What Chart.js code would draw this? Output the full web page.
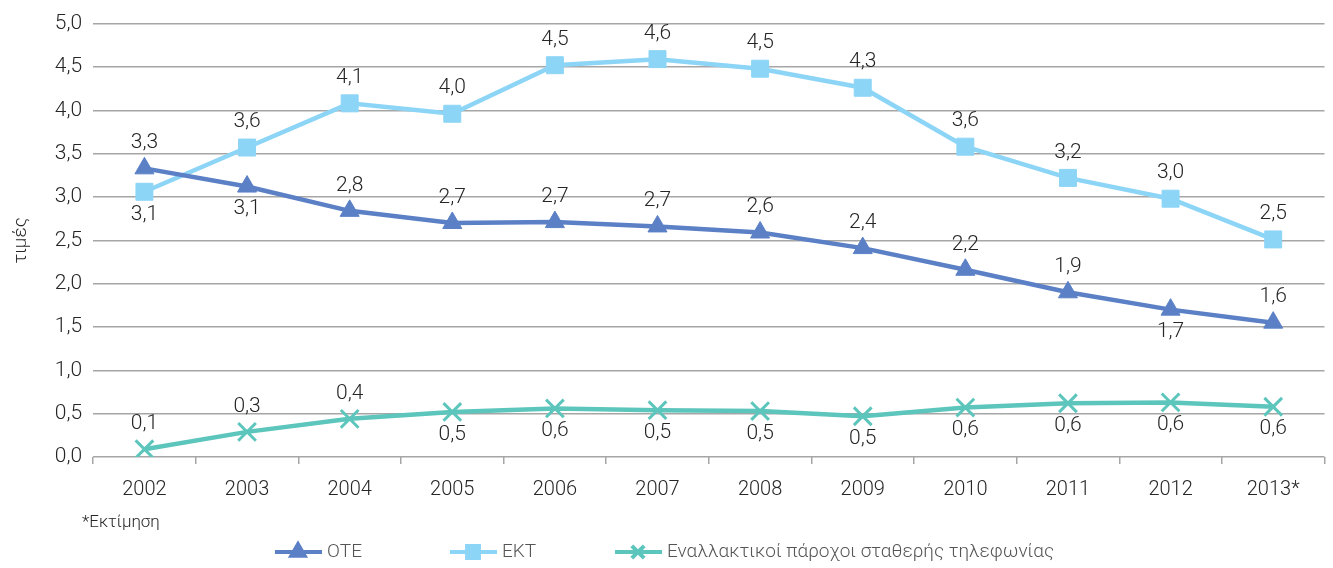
<!DOCTYPE html>
<html>
<head>
<meta charset="utf-8">
<script src="https://cdn.jsdelivr.net/npm/chart.js@4"></script>
<style>
  html, body { margin: 0; padding: 0; background: #fff; overflow: hidden; }
  #wrap { width: 1340px; height: 568px; }
</style>
</head>
<body>
<div id="wrap"><canvas id="chart"></canvas></div>
<script>
const years = ['2002', '2003', '2004', '2005', '2006', '2007', '2008', '2009', '2010', '2011', '2012', '2013*'];
const oteValues = [3.33, 3.12, 2.84, 2.70, 2.71, 2.66, 2.59, 2.41, 2.16, 1.90, 1.70, 1.55];
const ektValues = [3.06, 3.57, 4.08, 3.96, 4.52, 4.59, 4.48, 4.26, 3.58, 3.22, 2.98, 2.51];
const altValues = [0.09, 0.29, 0.44, 0.52, 0.56, 0.54, 0.53, 0.47, 0.57, 0.62, 0.63, 0.58];
// where each value label sits: 1 above the point, -1 below
const oteLabelSide = [1, -1, 1, 1, 1, 1, 1, 1, 1, 1, -1, 1];
const ektLabelSide = [-1, 1, 1, 1, 1, 1, 1, 1, 1, 1, 1, 1];
const altLabelSide = [1, 1, 1, -1, -1, -1, -1, -1, -1, -1, -1, -1];
const seriesNames = ['ΟΤΕ', 'ΕΚΤ', 'Εναλλακτικοί πάροχοι σταθερής τηλεφωνίας'];
const yTicks = [0, 0.5, 1, 1.5, 2, 2.5, 3, 3.5, 4, 4.5, 5];

const font = 'Roboto';
const textColor = '#262626';
const comma = v => v.toFixed(1).replace('.', ',');

// value labels, footnote and legend
const extrasPlugin = {
    id: 'extras',
    afterDatasetsDraw(chart) {
        const ctx = chart.ctx;
        const sides = [oteLabelSide, ektLabelSide, altLabelSide];
        ctx.save();
        ctx.font = `300 21px ${font}`;
        ctx.fillStyle = textColor;
        ctx.textAlign = 'center';
        chart.data.datasets.forEach((ds, i) => {
            chart.getDatasetMeta(i).data.forEach((pt, j) => {
                const side = sides[i][j];
                ctx.textBaseline = side > 0 ? 'bottom' : 'top';
                ctx.fillText(comma(ds.data[j]), pt.x, side > 0 ? pt.y - 15 : pt.y + 12);
            });
        });

        // footnote
        ctx.textAlign = 'left';
        ctx.textBaseline = 'middle';
        ctx.font = `300 17px ${font}`;
        ctx.fillText('*Εκτίμηση', 82, 523);

        // legend
        const legendX = [275, 450, 615];
        const legendY = 552;
        ctx.font = `300 19px ${font}`;
        chart.data.datasets.forEach((ds, i) => {
            const x = legendX[i];
            ctx.strokeStyle = ds.borderColor;
            ctx.fillStyle = ds.backgroundColor;
            ctx.lineWidth = 4;
            ctx.beginPath();
            ctx.moveTo(x, legendY);
            ctx.lineTo(x + 47, legendY);
            ctx.stroke();
            Chart.helpers.drawPoint(ctx, {
                pointStyle: ds.pointStyle,
                radius: ds.pointRadius * 0.7,
                borderWidth: ds.pointBorderWidth
            }, x + 23, legendY);
            ctx.fillStyle = '#555555';
            ctx.fillText(seriesNames[i], x + 52, legendY);
        });
        ctx.restore();
    }
};

function makeSet(label, data, color, style, radius) {
    return {
        label: label,
        data: data,
        borderColor: color,
        backgroundColor: color,
        pointBackgroundColor: color,
        pointBorderColor: color,
        borderWidth: 4.5,
        pointStyle: style,
        pointRadius: radius,
        pointBorderWidth: style === 'crossRot' ? 3 : 1,
        tension: 0
    };
}

new Chart(document.getElementById('chart'), {
    type: 'line',
    data: {
        labels: years,
        datasets: [
            makeSet(seriesNames[0], oteValues, '#5b80c6', 'triangle', 11),
            makeSet(seriesNames[1], ektValues, '#8dd5f6', 'rect', 12),
            makeSet(seriesNames[2], altValues, '#5cc5bc', 'crossRot', 12.5)
        ]
    },
    options: {
        responsive: true,
        maintainAspectRatio: false,
        animation: false,
        layout: { padding: { left: 6, right: 0, top: 5, bottom: 52 } },
        plugins: {
            legend: { display: false },
            tooltip: { enabled: false }
        },
        scales: {
            x: {
                offset: true,
                grid: {
                    offset: true,
                    drawOnChartArea: false,
                    drawTicks: true,
                    tickLength: 7,
                    color: '#a6a6a6',
                    lineWidth: 1.5
                },
                border: { display: false },
                ticks: {
                    color: textColor,
                    font: { family: font, size: 20, weight: 300 },
                    padding: 14,
                    maxRotation: 0
                }
            },
            y: {
                min: 0,
                max: 5,
                afterBuildTicks: axis => { axis.ticks = yTicks.map(v => ({ value: v })); },
                grid: {
                    color: '#a6a6a6',
                    lineWidth: 1.5,
                    drawTicks: false
                },
                border: { display: false },
                ticks: {
                    color: textColor,
                    font: { family: font, size: 21, weight: 300 },
                    padding: 11,
                    callback: v => comma(v)
                },
                title: {
                    display: true,
                    text: 'τιμές',
                    color: textColor,
                    font: { family: font, size: 19, weight: 300 },
                    padding: { bottom: 11 }
                }
            }
        }
    },
    plugins: [extrasPlugin]
});
</script>
</body>
</html>
